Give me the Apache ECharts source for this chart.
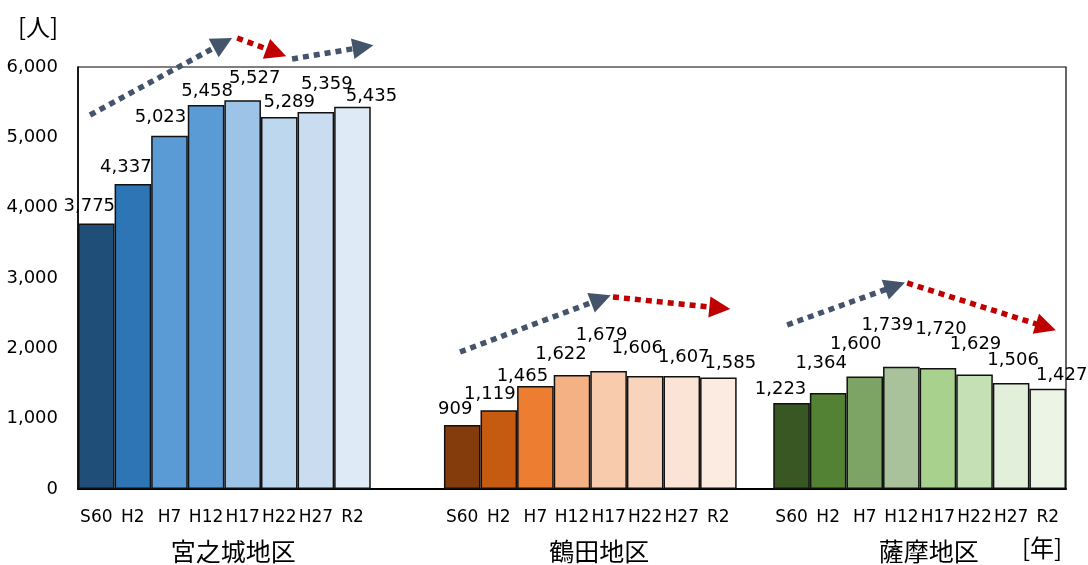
<!DOCTYPE html>
<html><head><meta charset="utf-8">
<script src="https://cdn.jsdelivr.net/npm/echarts@6/dist/echarts.min.js"></script>
<style>html,body{margin:0;padding:0;background:#fff}#c{width:1088px;height:565px}</style>
</head><body><div id="c"></div>
<script>
// ---- data ----
const years = ['S60', 'H2', 'H7', 'H12', 'H17', 'H22', 'H27', 'R2'];
const districts = ['宮之城地区', '鶴田地区', '薩摩地区'];
const miyanojo = [3775, 4337, 5023, 5458, 5527, 5289, 5359, 5435];
const tsuruda = [909, 1119, 1465, 1622, 1679, 1606, 1607, 1585];
const satsuma = [1223, 1364, 1600, 1739, 1720, 1629, 1506, 1427];
const yTicks = [0, 1000, 2000, 3000, 4000, 5000, 6000];
const gapsBetween = [2, 1]; // empty category slots between district groups
const yUnit = '[人]';
const xUnit = '[年]';

// trend arrows in data space: [xStart (category units), yStart, xEnd, yEnd]
const blueArrows = [
  [0.33, 5318, 3.96, 6341],
  [5.85, 6114, 7.79, 6284],
  [10.44, 1948, 14.29, 2701],
  [19.38, 2332, 22.33, 2886]
];
const redArrows = [
  [4.35, 6412, 5.42, 6206],
  [14.62, 2730, 17.54, 2573],
  [22.66, 2929, 26.45, 2303]
];

// ---- styles ----
const groupColors = [
  ['#1F4E79', '#2E75B6', '#5B9BD5', '#5B9BD5', '#9DC3E6', '#BDD7EE', '#CADDF0', '#DEEBF7'],
  ['#843C0C', '#C55A11', '#ED7D31', '#F4B183', '#F8CBAD', '#F8D4BC', '#FBE3D5', '#FCEBE1'],
  ['#385723', '#548235', '#7DA465', '#A9C29B', '#A9D18E', '#C5E0B4', '#E2EFDA', '#EBF4E5']
];
const labelShift = [
  [[-7, -8], [-7, -8], [-9, -9], [1, -5], [12, -13], [10, -6], [11, -19], [19, -1]],
  [[-7, -7], [-9, -7], [-13, -1], [-11, -12], [-7, -27], [-8, -19], [2, -10], [12, -5]],
  [[-11, -5], [-7, -21], [-9, -23], [-14, -32], [3, -30], [1, -21], [2, -14], [14, -4]]
];
const NUM_FONT = 'DejaVu Sans';
const CJK_FONT = 'Noto Sans CJK JP';

// ---- build categories/data ----
const groups = [miyanojo, tsuruda, satsuma];
const categories = [];
const barData = [];
const groupIdx = [];
groups.forEach((vals, g) => {
  const start = categories.length;
  vals.forEach((v, i) => {
    categories.push(years[i]);
    barData.push({
      value: v,
      itemStyle: { color: groupColors[g][i] },
      label: { offset: labelShift[g][i] }
    });
  });
  groupIdx.push([start, categories.length - 1]);
  if (g < gapsBetween.length) {
    for (let k = 0; k < gapsBetween[g]; k++) { categories.push(''); barData.push('-'); }
  }
});

const fmt = v => Number(v).toLocaleString('en-US');
const toLines = arr => arr.map(a => ({ coords: [[a[0], a[1]], [a[2], a[3]]] }));

const chart = echarts.init(document.getElementById('c'), null, { renderer: 'canvas' });
chart.setOption({
  animation: false,
  backgroundColor: '#fff',
  grid: { left: 78, right: 22, top: 67, bottom: 76, show: true, borderColor: '#000', borderWidth: 1.2, backgroundColor: 'transparent' },
  xAxis: [{
    type: 'category', data: categories,
    axisTick: { show: false },
    axisLine: { lineStyle: { color: '#000', width: 2 } },
    axisLabel: { interval: 0, color: '#000', fontSize: 17, fontFamily: NUM_FONT, margin: 20 },
    splitLine: { show: false }
  }, {
    type: 'value', min: 0, max: categories.length, show: false
  }],
  yAxis: {
    type: 'value', min: yTicks[0], max: yTicks[yTicks.length - 1], interval: yTicks[1] - yTicks[0],
    axisLine: { show: true, lineStyle: { color: '#000', width: 1.5 } },
    axisTick: { show: false },
    splitLine: { show: false },
    axisLabel: { color: '#000', fontSize: 18, fontFamily: NUM_FONT, margin: 20, formatter: fmt }
  },
  series: [{
    type: 'bar', xAxisIndex: 0, yAxisIndex: 0,
    data: barData,
    barCategoryGap: '0%',
    itemStyle: { borderColor: '#111', borderWidth: 1.5 },
    label: {
      show: true, position: 'top', distance: 0, color: '#000', fontSize: 18, fontFamily: NUM_FONT,
      formatter: p => fmt(p.value)
    }
  }, {
    type: 'lines', coordinateSystem: 'cartesian2d', xAxisIndex: 1, yAxisIndex: 0, clip: false, silent: true, z: 5,
    symbol: ['none', 'triangle'], symbolSize: [21, 21],
    lineStyle: { color: '#44546A', width: 5.5, type: [6, 5], opacity: 1, curveness: 0 },
    data: toLines(blueArrows)
  }, {
    type: 'lines', coordinateSystem: 'cartesian2d', xAxisIndex: 1, yAxisIndex: 0, clip: false, silent: true, z: 5,
    symbol: ['none', 'triangle'], symbolSize: [21, 21],
    lineStyle: { color: '#C00000', width: 5.5, type: [6, 5], opacity: 1, curveness: 0 },
    data: toLines(redArrows)
  }]
});

// group titles & unit labels
const graphics = [];
groupIdx.forEach((rng, g) => {
  const x0 = chart.convertToPixel({ xAxisIndex: 0 }, rng[0]);
  const x1 = chart.convertToPixel({ xAxisIndex: 0 }, rng[1]);
  graphics.push({
    type: 'text', x: (x0 + x1) / 2 + 9, y: 551,
    style: { text: districts[g], font: '25px "' + CJK_FONT + '"', fill: '#000', textAlign: 'center', textVerticalAlign: 'middle' }
  });
});
graphics.push({ type: 'text', x: 38, y: 27, style: { text: yUnit, font: '24px "' + CJK_FONT + '"', fill: '#000', textAlign: 'center', textVerticalAlign: 'middle' } });
graphics.push({ type: 'text', x: 1042, y: 548, style: { text: xUnit, font: '24px "' + CJK_FONT + '"', fill: '#000', textAlign: 'center', textVerticalAlign: 'middle' } });
chart.setOption({ graphic: graphics });
</script>
</body></html>
